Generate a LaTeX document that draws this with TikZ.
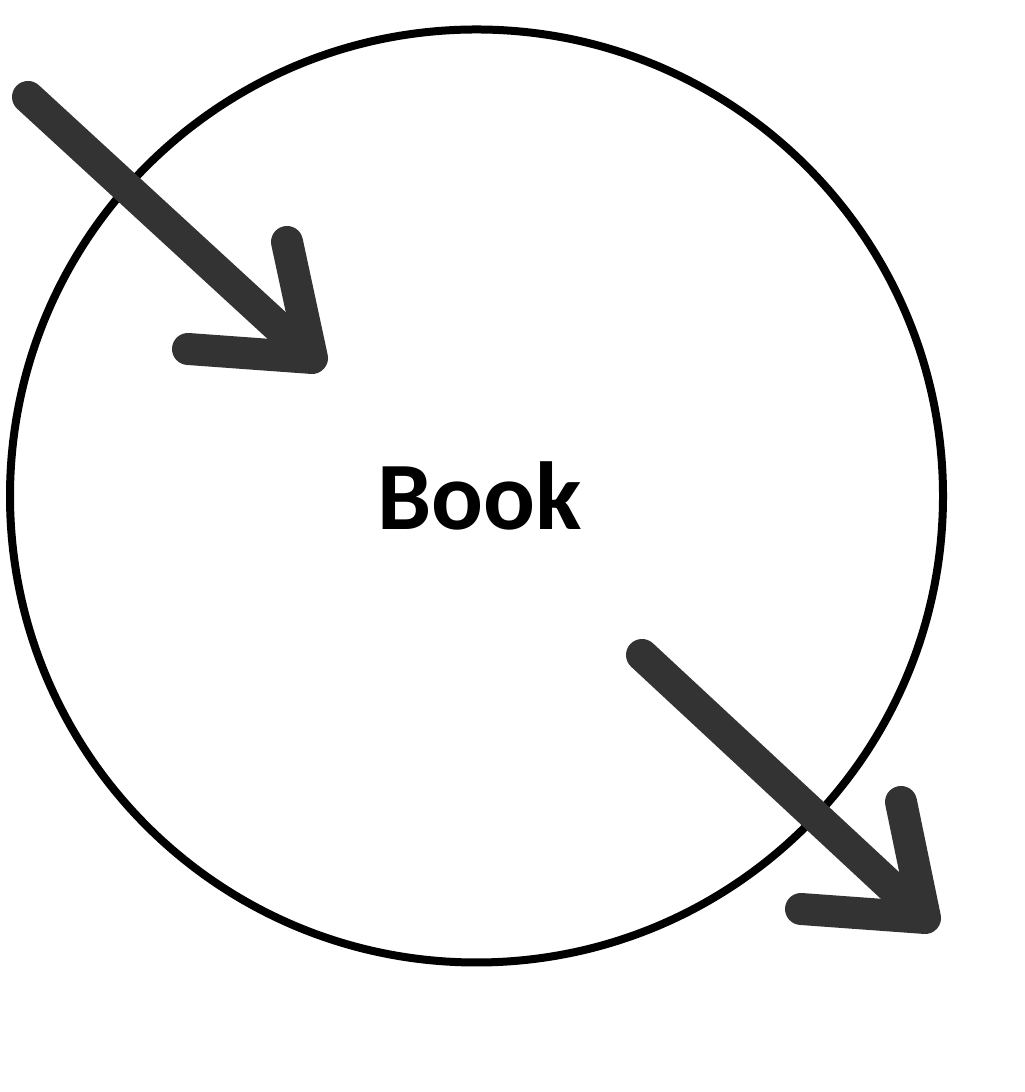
\documentclass[tikz,border=0pt]{standalone}
\usepackage{fontspec}
\setmainfont{Carlito}
\usepackage{tikz}
\usetikzlibrary{positioning}
\usetikzlibrary{calc}
\definecolor{arrowgray}{HTML}{333333}

\begin{document}
\begin{tikzpicture}[
    bigarrow/.style={draw=arrowgray, line width=0.32cm, line cap=round, line join=round},
    bookcircle/.style={draw, circle, line width=0.08cm, minimum size=9.33cm, inner sep=0pt}]
    \useasboundingbox (0,0) rectangle (10.24,10.92);

    \node [bookcircle] (book) at (4.765,5.96) {};
    \node [anchor=base, font=\bfseries\fontsize{27.5}{33}\selectfont] (title) at (4.80,5.62) {Book};

    \coordinate (inStart) at (0.28,9.95);
    \coordinate (inTip) at (3.12,7.34);
    \coordinate (outStart) at (6.42,4.37);
    \coordinate (outTip) at (9.25,1.74);

    % incoming arrow
    \draw [bigarrow, shorten >=0.15cm] (inStart) -- (inTip);
    \draw [bigarrow] ($(inTip)+(-0.25,1.16)$) -- (inTip) -- ($(inTip)+(-1.24,0.09)$);

    % outgoing arrow
    \draw [bigarrow, shorten >=0.15cm] (outStart) -- (outTip);
    \draw [bigarrow] ($(outTip)+(-0.24,1.16)$) -- (outTip) -- ($(outTip)+(-1.24,0.09)$);
\end{tikzpicture}
\end{document}
